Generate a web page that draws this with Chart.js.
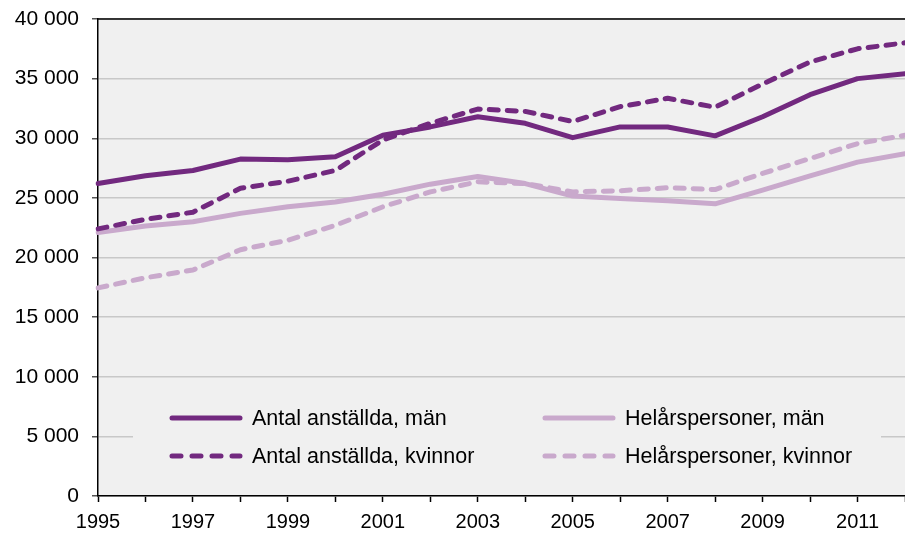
<!DOCTYPE html>
<html lang="sv">
<head>
    <meta charset="UTF-8">
    <title>Anställda och helårspersoner</title>
    <style>
        body, html {
            margin: 0;
            padding: 0;
            background: #ffffff;
        }
        #wrap {
            position: relative;
            width: 905px;
            height: 537px;
        }
    </style>
</head>
<body>
    <div id="wrap">
        <canvas id="chart" width="905" height="537"></canvas>
    </div>

    <script src="https://cdn.jsdelivr.net/npm/chart.js"></script>
    <script>
        // Data
        const years = [1995, 1996, 1997, 1998, 1999, 2000, 2001, 2002, 2003,
                       2004, 2005, 2006, 2007, 2008, 2009, 2010, 2011, 2012];
        const antalMan = [26200, 26850, 27300, 28250, 28200, 28450, 30250, 30950, 31800,
                          31250, 30050, 30950, 30950, 30200, 31800, 33650, 35000, 35400];
        const antalKvinnor = [22400, 23200, 23800, 25800, 26400, 27300, 29850, 31250, 32450,
                              32250, 31400, 32650, 33350, 32600, 34550, 36400, 37500, 38000];
        const helarMan = [22100, 22650, 23000, 23700, 24250, 24650, 25300, 26150, 26800,
                          26200, 25150, 24950, 24750, 24500, 25650, 26850, 28000, 28700];
        const helarKvinnor = [17450, 18300, 18950, 20650, 21450, 22700, 24250, 25500, 26350,
                              26200, 25500, 25600, 25850, 25700, 27050, 28300, 29550, 30250];
        const yTicks = [0, 5000, 10000, 15000, 20000, 25000, 30000, 35000, 40000];

        const dark = '#72297f';
        const light = '#c9a9cc';
        const dash = [9, 9];
        const fontFam = '"Liberation Sans", Arial, sans-serif';

        function fmt(v) {
            return String(v).replace(/\B(?=(\d{3})+(?!\d))/g, ' ');
        }

        // grey plot background + black top border
        const plotBg = {
            id: 'plotBg',
            beforeDraw(chart) {
                const a = chart.chartArea, c = chart.ctx;
                c.save();
                c.fillStyle = '#f0f0f0';
                c.fillRect(a.left, a.top, a.right - a.left, a.bottom - a.top);
                c.restore();
            },
            afterDraw(chart) {
                const a = chart.chartArea, c = chart.ctx;
                c.save();
                c.strokeStyle = '#000';
                c.lineWidth = 1.5;
                c.beginPath();
                c.moveTo(a.left, a.top);
                c.lineTo(a.right, a.top);
                c.stroke();
                c.restore();
            }
        };

        // legend drawn inside the plot, two columns
        const innerLegend = {
            id: 'innerLegend',
            beforeDatasetsDraw(chart) {
                const a = chart.chartArea, c = chart.ctx;
                c.save();
                c.fillStyle = '#f0f0f0';
                c.fillRect(a.left + 35, a.top + 372, 748, 90);
                c.restore();
            },
            afterDatasetsDraw(chart) {
                const a = chart.chartArea, c = chart.ctx;
                const cols = [a.left + 72, a.left + 445];
                const rows = [a.top + 399, a.top + 437];
                c.save();
                c.font = '21.5px ' + fontFam;
                c.textBaseline = 'middle';
                c.fillStyle = '#000';
                chart.data.datasets.forEach((ds, i) => {
                    const x = cols[Math.floor(i / 2)];
                    const y = rows[i % 2];
                    c.strokeStyle = ds.borderColor;
                    c.lineWidth = 5;
                    c.lineCap = 'round';
                    c.setLineDash(ds.borderDash && ds.borderDash.length ? [9, 11] : []);
                    c.beginPath();
                    c.moveTo(x + 2, y);
                    c.lineTo(x + 70, y);
                    c.stroke();
                    c.setLineDash([]);
                    c.fillText(ds.label, x + 82, y + 1);
                });
                c.restore();
            }
        };

        new Chart(document.getElementById('chart'), {
            type: 'line',
            data: {
                labels: years,
                datasets: [
                    { label: 'Antal anställda, män', data: antalMan, borderColor: dark, borderDash: [] },
                    { label: 'Antal anställda, kvinnor', data: antalKvinnor, borderColor: dark, borderDash: dash },
                    { label: 'Helårspersoner, män', data: helarMan, borderColor: light, borderDash: [] },
                    { label: 'Helårspersoner, kvinnor', data: helarKvinnor, borderColor: light, borderDash: dash }
                ]
            },
            options: {
                responsive: false,
                animation: false,
                layout: { padding: { top: 19, right: 0, left: 0, bottom: 0 } },
                elements: {
                    point: { radius: 0 },
                    line: { borderWidth: 5, tension: 0, borderCapStyle: 'round', borderJoinStyle: 'round' }
                },
                plugins: {
                    legend: { display: false },
                    tooltip: { enabled: false }
                },
                scales: {
                    x: {
                        offset: false,
                        grid: {
                            drawOnChartArea: false,
                            tickColor: '#000',
                            tickLength: 6,
                            tickWidth: 1.5
                        },
                        border: { color: '#000', width: 1.5 },
                        ticks: {
                            autoSkip: false,
                            maxRotation: 0,
                            padding: 8,
                            color: '#000',
                            font: { family: fontFam, size: 20 },
                            callback: function (v, i) {
                                const y = years[i];
                                return y % 2 === 1 ? String(y) : '';
                            }
                        },
                        afterFit(scale) {
                            scale.height = 41;
                            scale.paddingLeft = 0;
                            scale.paddingRight = 0;
                        }
                    },
                    y: {
                        min: 0,
                        max: 40000,
                        afterBuildTicks(scale) {
                            scale.ticks = yTicks.map(v => ({ value: v }));
                        },
                        grid: {
                            color: '#c8c8c8',
                            lineWidth: 1.5,
                            tickColor: '#555',
                            tickLength: 6
                        },
                        border: { color: '#000', width: 1.5 },
                        ticks: {
                            padding: 13,
                            color: '#000',
                            font: { family: fontFam, size: 21 },
                            callback: v => fmt(v)
                        },
                        afterFit(scale) {
                            scale.width = 98;
                            scale.paddingTop = 0;
                            scale.paddingBottom = 0;
                        }
                    }
                }
            },
            plugins: [plotBg, innerLegend]
        });
    </script>
</body>
</html>
